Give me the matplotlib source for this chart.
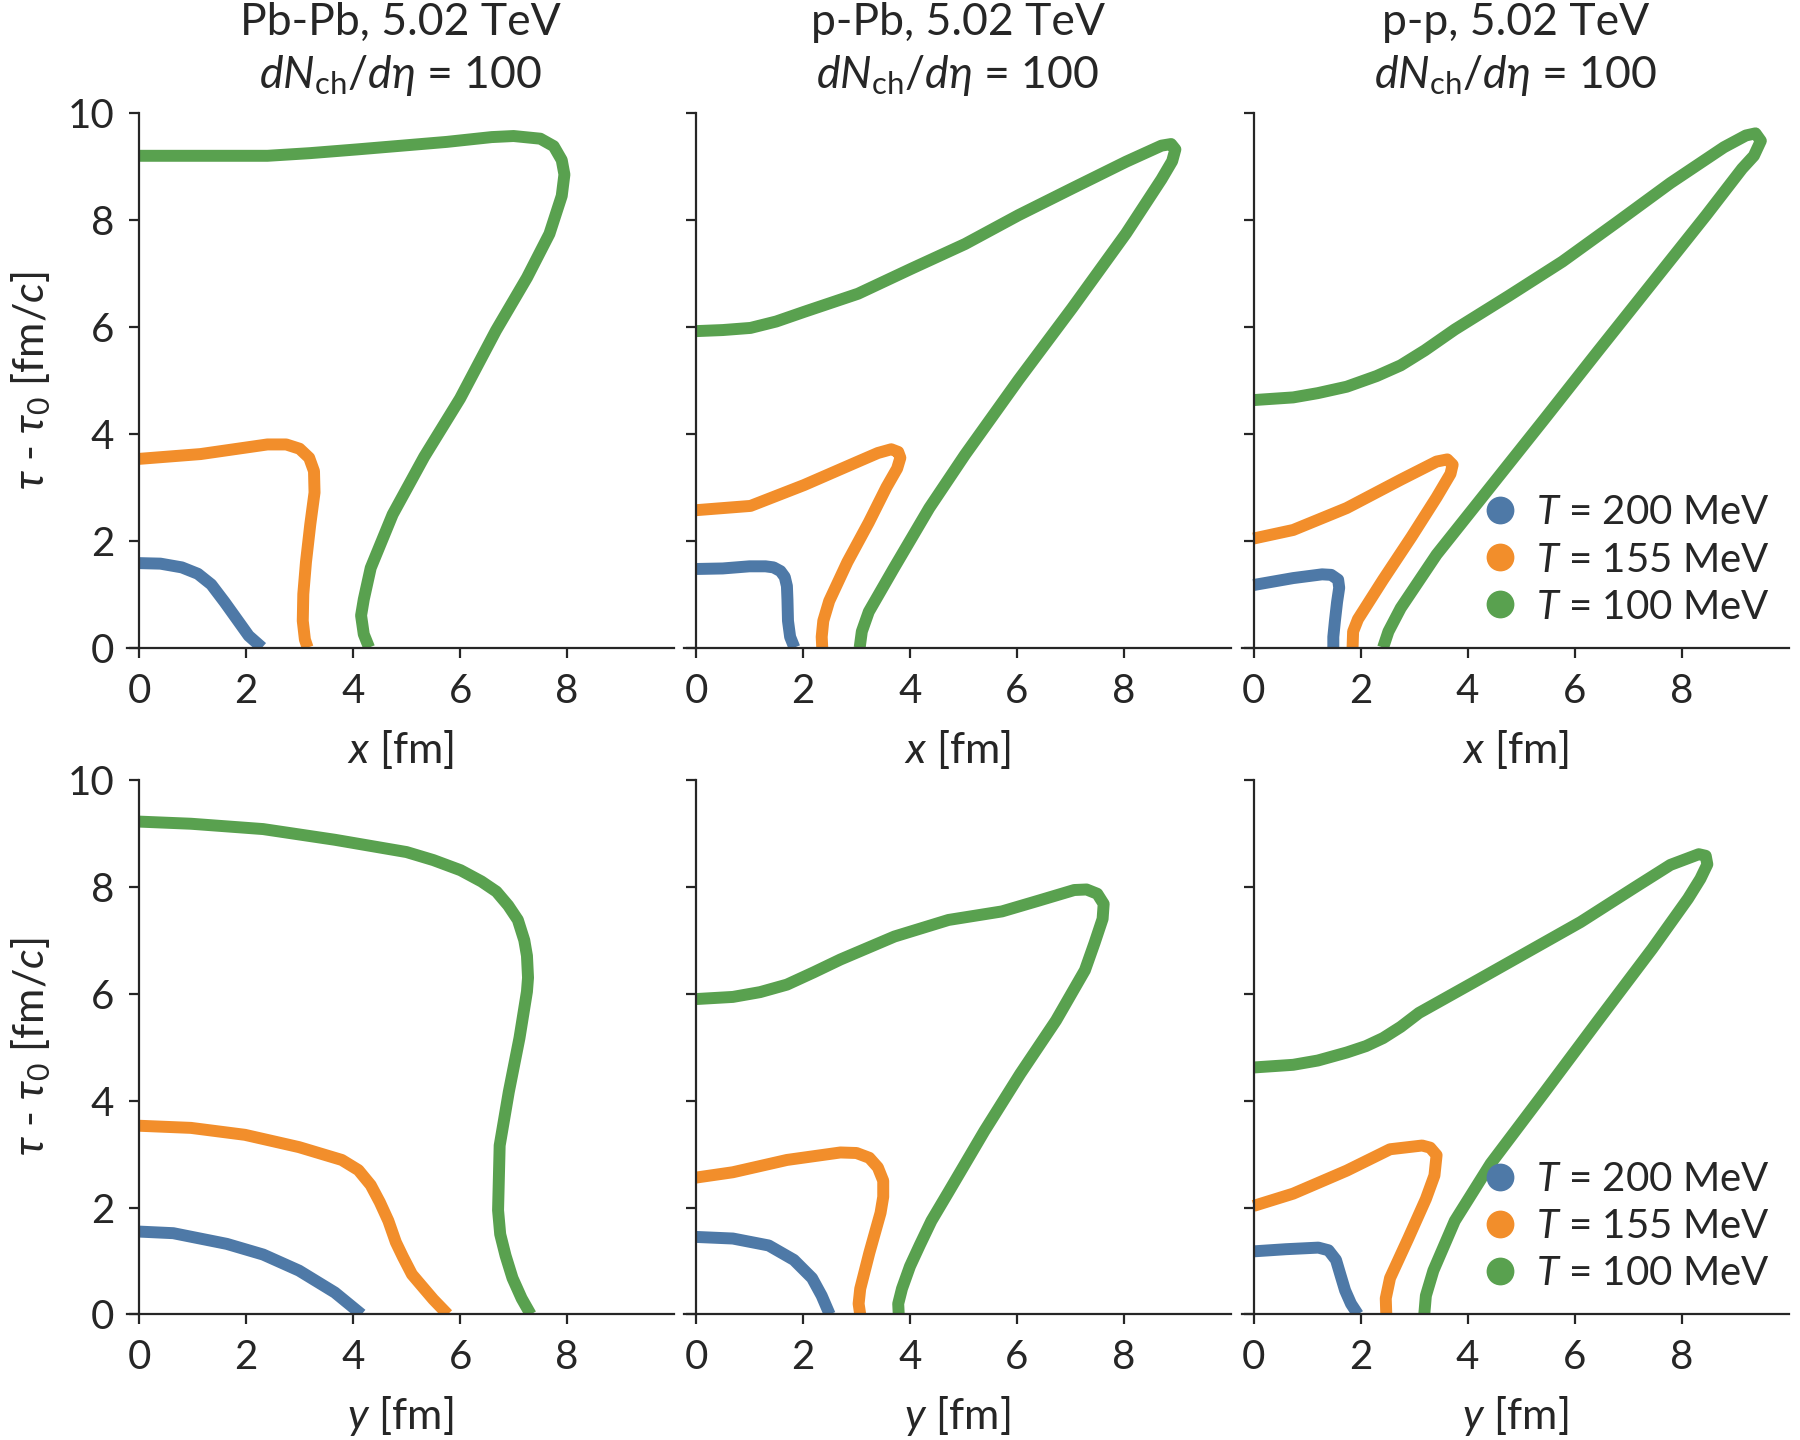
import matplotlib
matplotlib.use("Agg")
import matplotlib.pyplot as plt
from matplotlib.lines import Line2D

plt.rcParams['font.family'] = ['Lato', 'DejaVu Sans']
plt.rcParams['mathtext.fontset'] = 'custom'
plt.rcParams['mathtext.rm'] = 'Lato'
plt.rcParams['mathtext.it'] = 'Lato:italic'
plt.rcParams['mathtext.fallback'] = 'stixsans'

# freeze-out surfaces, (r, tau - tau0) pairs
# Pb-Pb, x direction
pbpb_x_200 = [(0, 1.58), (0.4, 1.57), (0.8, 1.5), (1.1, 1.38), (1.35, 1.18), (1.6, 0.85),
              (1.85, 0.5), (2.05, 0.22), (2.3, 0)]
pbpb_x_155 = [(0, 3.53), (1.15, 3.62), (2.4, 3.8), (2.75, 3.8), (3.0, 3.72), (3.18, 3.55),
              (3.27, 3.3), (3.28, 2.9), (3.2, 2.3), (3.12, 1.6), (3.07, 1.0), (3.06, 0.5),
              (3.1, 0.15), (3.15, 0)]
pbpb_x_100 = [(0, 9.2), (2.4, 9.2), (3.2, 9.25), (4.08, 9.32), (5.75, 9.46), (6.59, 9.55), (7.0, 9.57),
              (7.5, 9.52), (7.75, 9.38), (7.9, 9.12), (7.95, 8.85), (7.9, 8.45), (7.67, 7.74),
              (7.25, 6.92), (6.67, 5.93), (6.0, 4.66), (5.33, 3.57), (4.74, 2.49), (4.33, 1.49),
              (4.2, 0.9), (4.15, 0.6), (4.2, 0.25), (4.3, 0)]
# p-Pb, x direction
ppb_x_200 = [(0, 1.47), (0.5, 1.48), (1.0, 1.52), (1.3, 1.52), (1.45, 1.5), (1.58, 1.43),
             (1.66, 1.32), (1.7, 1.15), (1.71, 0.9), (1.72, 0.5), (1.76, 0.2), (1.84, 0)]
ppb_x_155 = [(0, 2.57), (1.02, 2.65), (2.02, 3.04), (3.03, 3.48), (3.4, 3.64), (3.65, 3.71),
             (3.78, 3.66), (3.82, 3.55), (3.76, 3.35), (3.56, 3.0), (3.23, 2.34), (2.83, 1.6),
             (2.49, 0.87), (2.38, 0.5), (2.35, 0.2), (2.36, 0)]
ppb_x_100 = [(0, 5.92), (0.5, 5.94), (1.02, 5.98), (1.5, 6.1), (2.02, 6.28), (3.03, 6.62), (4.03, 7.09),
             (5.03, 7.55), (6.03, 8.09), (7.03, 8.59), (8.04, 9.09), (8.7, 9.39), (8.88, 9.42),
             (8.96, 9.32), (8.9, 9.1), (8.7, 8.76), (8.04, 7.75), (7.03, 6.35), (6.03, 5.01),
             (5.03, 3.61), (4.36, 2.61), (3.69, 1.47), (3.23, 0.67), (3.1, 0.3), (3.06, 0)]
# p-p, x direction
pp_x_200 = [(0, 1.17), (0.74, 1.3), (1.28, 1.37), (1.45, 1.36), (1.58, 1.27), (1.6, 1.12),
            (1.56, 0.85), (1.52, 0.5), (1.49, 0.2), (1.49, 0)]
pp_x_155 = [(0, 2.04), (0.74, 2.2), (1.74, 2.61), (2.75, 3.14), (3.42, 3.48), (3.62, 3.52),
            (3.72, 3.42), (3.68, 3.25), (3.42, 2.81), (2.95, 2.07), (2.42, 1.27), (1.95, 0.53),
            (1.86, 0.3), (1.85, 0)]
pp_x_100 = [(0, 4.63), (0.74, 4.68), (1.2, 4.76), (1.74, 4.88), (2.3, 5.08), (2.75, 5.28),
            (3.2, 5.56), (3.76, 5.95), (4.77, 6.58), (5.77, 7.22), (6.78, 7.95), (7.79, 8.69),
            (8.79, 9.36), (9.2, 9.58), (9.38, 9.62), (9.48, 9.48), (9.35, 9.2), (9.13, 8.96),
            (8.46, 8.09), (7.45, 6.82), (6.44, 5.55), (5.44, 4.28), (4.43, 3.01), (3.42, 1.74),
            (2.75, 0.74), (2.52, 0.3), (2.42, 0)]
# Pb-Pb, y direction
pbpb_y_200 = [(0, 1.55), (0.64, 1.52), (1.64, 1.32), (2.32, 1.12), (2.99, 0.82), (3.66, 0.41), (4.16, 0)]
pbpb_y_155 = [(0, 3.53), (0.97, 3.49), (1.98, 3.36), (2.99, 3.13), (3.79, 2.89), (4.1, 2.7),
              (4.33, 2.42), (4.5, 2.1), (4.66, 1.75), (4.8, 1.35), (4.93, 1.08), (5.1, 0.75),
              (5.27, 0.55), (5.5, 0.28), (5.77, 0)]
pbpb_y_100 = [(0, 9.22), (0.97, 9.18), (2.32, 9.08), (3.66, 8.88), (5.0, 8.65), (5.5, 8.5),
              (6.01, 8.31), (6.4, 8.1), (6.68, 7.91), (6.9, 7.65), (7.08, 7.38), (7.2, 7.0),
              (7.25, 6.71), (7.27, 6.3), (7.25, 6.04), (7.11, 5.17), (6.91, 4.16), (6.74, 3.16),
              (6.71, 1.95), (6.75, 1.5), (6.85, 1.1), (6.98, 0.68), (7.15, 0.3), (7.32, 0)]
# p-Pb, y direction
ppb_y_200 = [(0, 1.45), (0.69, 1.42), (1.36, 1.29), (1.83, 1.02), (2.17, 0.68), (2.35, 0.35), (2.5, 0)]
ppb_y_155 = [(0, 2.56), (0.69, 2.66), (1.7, 2.89), (2.7, 3.03), (3.0, 3.02), (3.24, 2.93),
             (3.4, 2.75), (3.5, 2.5), (3.5, 2.2), (3.45, 1.9), (3.24, 1.15), (3.07, 0.48),
             (3.04, 0.2), (3.07, 0)]
ppb_y_100 = [(0, 5.9), (0.69, 5.94), (1.2, 6.03), (1.7, 6.17), (2.2, 6.4), (2.7, 6.64),
             (3.71, 7.07), (4.72, 7.38), (5.72, 7.54), (6.4, 7.74), (7.07, 7.94), (7.3, 7.95),
             (7.5, 7.87), (7.62, 7.68), (7.6, 7.4), (7.45, 6.95), (7.27, 6.44), (6.73, 5.5),
             (6.06, 4.5), (5.39, 3.43), (4.72, 2.29), (4.4, 1.75), (4.18, 1.29), (4.0, 0.9),
             (3.85, 0.48), (3.78, 0.2), (3.79, 0)]
# p-p, y direction
pp_y_200 = [(0, 1.18), (0.6, 1.22), (1.21, 1.25), (1.4, 1.2), (1.54, 1.02), (1.62, 0.75),
            (1.71, 0.45), (1.82, 0.2), (1.95, 0)]
pp_y_155 = [(0, 2.03), (0.74, 2.26), (1.74, 2.69), (2.55, 3.09), (3.15, 3.16), (3.3, 3.12),
            (3.42, 2.98), (3.38, 2.6), (3.22, 2.16), (2.89, 1.42), (2.55, 0.68), (2.47, 0.3), (2.48, 0)]
pp_y_100 = [(0, 4.62), (0.74, 4.67), (1.2, 4.75), (1.74, 4.9), (2.1, 5.02), (2.42, 5.17),
            (2.75, 5.38), (3.09, 5.64), (4.09, 6.2), (5.1, 6.77), (6.11, 7.34), (7.11, 7.98),
            (7.79, 8.41), (8.32, 8.61), (8.45, 8.58), (8.48, 8.42), (8.35, 8.15), (8.12, 7.78),
            (7.45, 6.84), (6.44, 5.5), (5.44, 4.16), (4.43, 2.82), (3.76, 1.75), (3.36, 0.82),
            (3.22, 0.35), (3.19, 0)]

systems = ['Pb-Pb', 'p-Pb', 'p-p']
temps = [200, 155, 100]
colors = ['#4e79a7', '#f28e2b', '#59a14f']
curves = [
    [[pbpb_x_200, pbpb_x_155, pbpb_x_100], [ppb_x_200, ppb_x_155, ppb_x_100], [pp_x_200, pp_x_155, pp_x_100]],
    [[pbpb_y_200, pbpb_y_155, pbpb_y_100], [ppb_y_200, ppb_y_155, ppb_y_100], [pp_y_200, pp_y_155, pp_y_100]],
]
row_var = ['x', 'y']

fig = plt.figure(figsize=(9, 7.2), dpi=200)
lefts = [0.0707, 0.3801, 0.6899]
bottoms = [0.5503, 0.0872]
w, h = 0.3038, 0.3712
dark = '#262626'

for r in range(2):
    for c in range(3):
        ax = fig.add_axes([lefts[c], bottoms[r], w, h])
        for pts, col in zip(curves[r][c], colors):
            xs = [p[0] for p in pts]
            ys = [p[1] for p in pts]
            ax.plot(xs, ys, color=col, lw=4.3, solid_capstyle='butt', solid_joinstyle='round')
        ax.set_xlim(-0.22, 10)
        ax.set_ylim(0, 10)
        ax.set_xticks([0, 2, 4, 6, 8])
        ax.set_yticks([0, 2, 4, 6, 8, 10])
        for s in ['top', 'right']:
            ax.spines[s].set_visible(False)
        ax.spines['left'].set_position(('data', 0))
        for s in ['left', 'bottom']:
            ax.spines[s].set_linewidth(0.8)
            ax.spines[s].set_color(dark)
        ax.tick_params(direction='out', length=3.5, width=0.8, color=dark,
                       labelsize=14.5, labelcolor=dark, pad=5.5)
        ax.set_xlabel('$%s$ [fm]' % row_var[r], fontsize=15.5, color=dark, labelpad=6.5)
        if c == 0:
            ax.set_ylabel(r'$\tau$ - $\tau_0$ [fm/$c$]', fontsize=15.5, color=dark, labelpad=5)
        else:
            ax.set_yticklabels([])
        if r == 0:
            ax.set_title('%s, 5.02 TeV\n$dN_\\mathrm{ch}/d\\eta$ = 100' % systems[c],
                         fontsize=16, color=dark, pad=9, linespacing=1.3)
        if c == 2:
            handles = [Line2D([], [], ls='none', marker='o', ms=9, color=col) for col in colors]
            labels = ['$T$ = %d MeV' % t for t in temps]
            ax.legend(handles, labels, loc='lower right', bbox_to_anchor=(0.995, 0.011),
                      frameon=False, fontsize=14.5, handlelength=1.0, handletextpad=0.4,
                      labelspacing=0.25, borderaxespad=0, labelcolor=dark)

fig.savefig('out.png', dpi=200)
